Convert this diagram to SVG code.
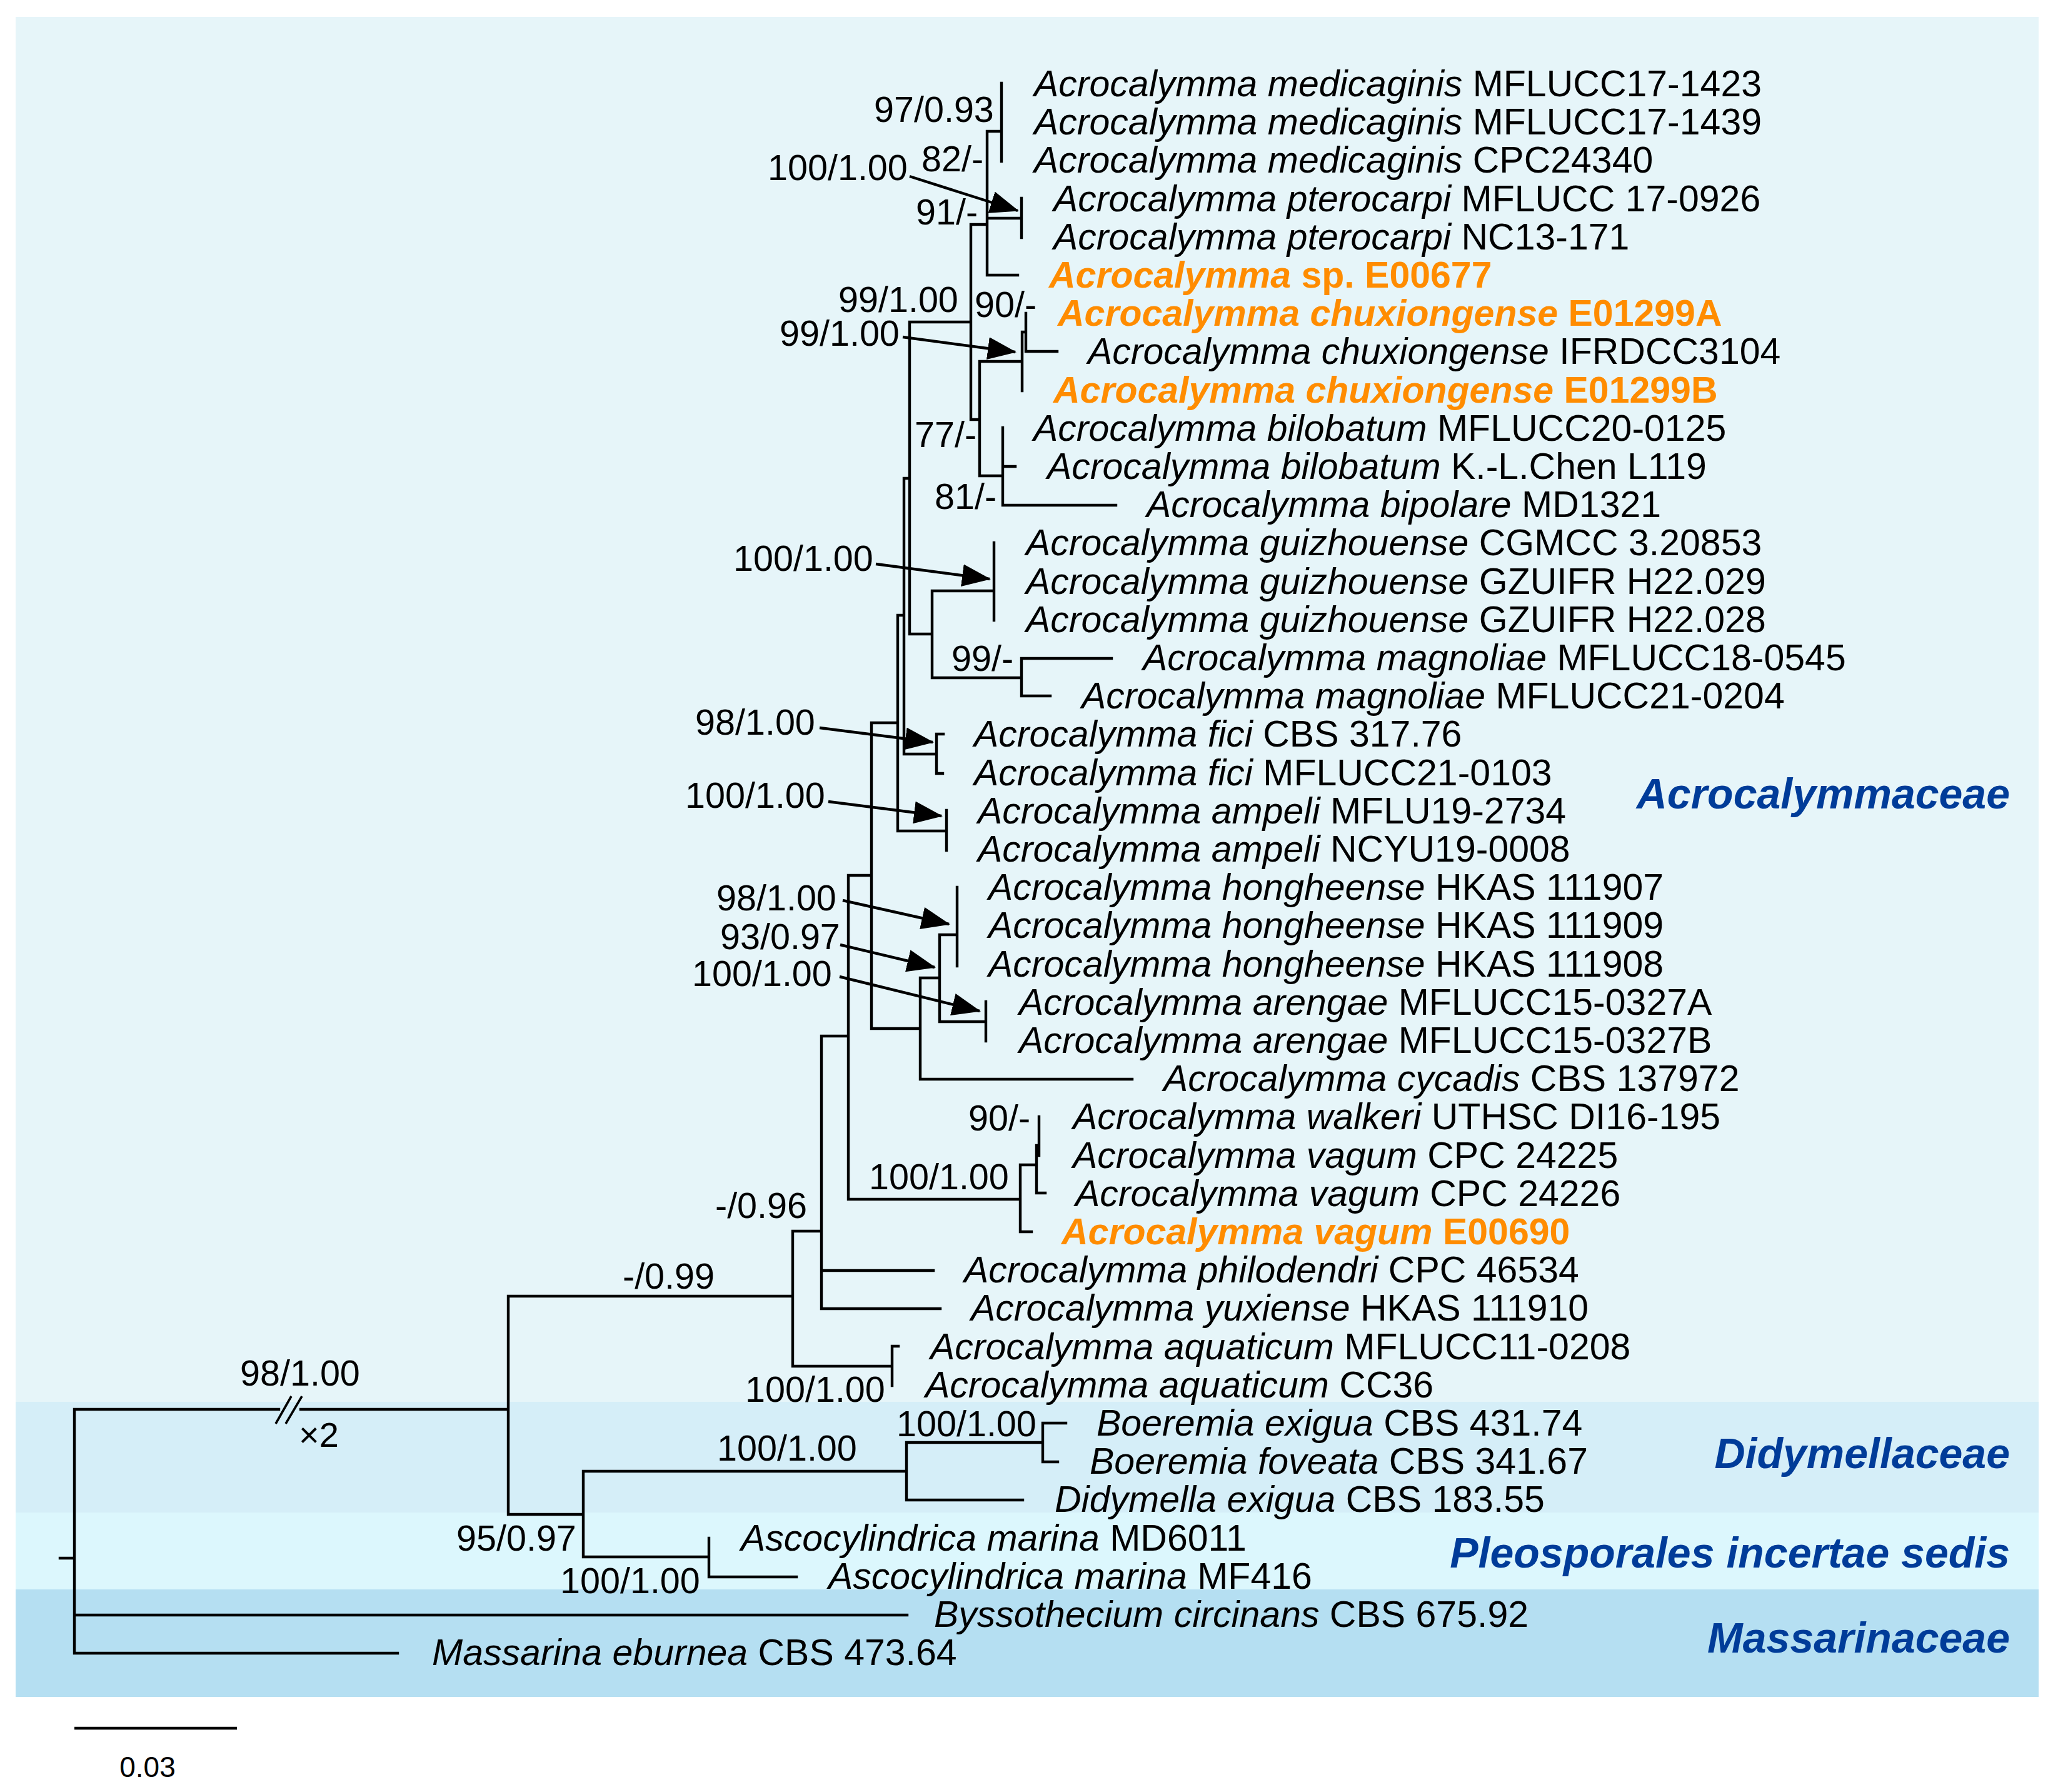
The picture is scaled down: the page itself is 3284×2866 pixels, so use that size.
<svg xmlns="http://www.w3.org/2000/svg" width="3284" height="2866" viewBox="0 0 3284 2866">
<defs>
<style>
text{font-family:'Liberation Sans',Arial,Helvetica,sans-serif;fill:#000}
.t{font-size:59px}
.o{font-size:59px;font-weight:bold;fill:#FF8C00}
.o tspan{fill:#FF8C00}
.s{font-size:57.5px}
.g{font-size:68px;font-weight:bold;font-style:italic;fill:#003C99;text-anchor:end}
.i{font-style:italic}
.br{fill:none;stroke:#000;stroke-width:4.4;stroke-linecap:square}
.ar{fill:none;stroke:#000;stroke-width:4.4;marker-end:url(#ah)}
</style>
<marker id="ah" markerWidth="46" markerHeight="36" refX="44" refY="18" orient="auto" markerUnits="userSpaceOnUse"><path d="M0,0 L46,18 L0,36 Z" fill="#000"/></marker>
</defs>
<rect x="0" y="0" width="3284" height="2866" fill="#FFFFFF"/>
<g id="bands">
<rect x="25" y="27" width="3236" height="2215" fill="#E6F5F9"/>
<rect x="25" y="2242" width="3236" height="177" fill="#D5EEF8"/>
<rect x="25" y="2419" width="3236" height="123" fill="#DCF7FD"/>
<rect x="25" y="2542" width="3236" height="172" fill="#B5DFF2"/>
</g>
<g id="connectors">
<path class="br" d="M96 2492H119 M119 2254V2644 M119 2254H446 M481 2254H813 M119 2583H1451 M119 2644H636
M813 2073V2422 M813 2073H1268 M813 2422H933
M933 2353V2490 M933 2353H1450 M933 2490H1134
M1450 2307V2399 M1450 2307H1668 M1450 2399H1636
M1668 2276V2338 M1668 2276H1705 M1668 2338H1692
M1134 2460V2522 M1134 2522H1274
M1268 1969V2185 M1268 1969H1314 M1268 2185H1427
M1427 2153V2216 M1427 2153H1437
M1314 1657V2093 M1314 1657H1357 M1314 2032H1493 M1314 2093H1504
M1357 1400V1918 M1357 1400H1394 M1357 1918H1632
M1632 1863V1970 M1632 1863H1658 M1632 1970H1650
M1658 1832V1908 M1658 1908H1672 M1658 1832H1662 M1662 1786V1848
M1394 1156V1645 M1394 1156H1436 M1394 1645H1472
M1472 1564V1726 M1472 1564H1503 M1472 1726H1811
M1503 1495V1634 M1503 1495H1531 M1503 1634H1577
M1531 1419V1545 M1577 1602V1665
M1436 984V1329 M1436 984H1446 M1436 1329H1514
M1514 1296V1360
M1446 765V1206 M1446 765H1455 M1446 1206H1498
M1498 1174V1237 M1498 1174H1509 M1498 1237H1508
M1455 515V1014 M1455 515H1553 M1455 1014H1491
M1491 945V1084 M1491 945H1590 M1491 1084H1634
M1590 868V992
M1634 1053V1113 M1634 1053H1778 M1634 1113H1680
M1553 359V671 M1553 359H1579 M1553 671H1567
M1579 210V440 M1579 210H1602 M1579 349H1634 M1579 440H1628
M1602 133V258 M1634 317V380
M1567 578V761 M1567 578H1635 M1567 761H1604
M1635 531V625 M1635 531H1641 M1641 501V562 M1641 562H1691
M1604 684V808 M1604 746H1624 M1604 808H1785"/>
<path d="M441 2277L466 2233 M457 2277L483 2233" stroke="#000" stroke-width="3.6" fill="none"/>
<path class="ar" d="M1455 282L1628 337"/>
<path class="ar" d="M1444 539L1624 563"/>
<path class="ar" d="M1401 902L1583 926"/>
<path class="ar" d="M1311 1164L1492 1187"/>
<path class="ar" d="M1325 1282L1506 1305"/>
<path class="ar" d="M1348 1440L1518 1478"/>
<path class="ar" d="M1344 1511L1495 1547"/>
<path class="ar" d="M1343 1562L1567 1617"/>
<path d="M119 2764H379" stroke="#000" stroke-width="4.4" fill="none"/>
</g>
<g id="taxa">
<g id="t1"><text class="t" x="1654" y="154"><tspan class="i">Acrocalymma medicaginis</tspan> MFLUCC17-1423</text></g>
<g id="t2"><text class="t" x="1654" y="215"><tspan class="i">Acrocalymma medicaginis</tspan> MFLUCC17-1439</text></g>
<g id="t3"><text class="t" x="1654" y="276"><tspan class="i">Acrocalymma medicaginis</tspan> CPC24340</text></g>
<g id="t4"><text class="t" x="1685" y="338"><tspan class="i">Acrocalymma pterocarpi</tspan> MFLUCC 17-0926</text></g>
<g id="t5"><text class="t" x="1685" y="399"><tspan class="i">Acrocalymma pterocarpi</tspan> NC13-171</text></g>
<g id="t6"><text class="o" x="1678" y="460"><tspan class="i">Acrocalymma</tspan> sp. E00677</text></g>
<g id="t7"><text class="o" x="1692" y="521"><tspan class="i">Acrocalymma chuxiongense</tspan> E01299A</text></g>
<g id="t8"><text class="t" x="1740" y="582"><tspan class="i">Acrocalymma chuxiongense</tspan> IFRDCC3104</text></g>
<g id="t9"><text class="o" x="1685" y="644"><tspan class="i">Acrocalymma chuxiongense</tspan> E01299B</text></g>
<g id="t10"><text class="t" x="1653" y="705"><tspan class="i">Acrocalymma bilobatum</tspan> MFLUCC20-0125</text></g>
<g id="t11"><text class="t" x="1675" y="766"><tspan class="i">Acrocalymma bilobatum</tspan> K.-L.Chen L119</text></g>
<g id="t12"><text class="t" x="1834" y="827"><tspan class="i">Acrocalymma bipolare</tspan> MD1321</text></g>
<g id="t13"><text class="t" x="1641" y="888"><tspan class="i">Acrocalymma guizhouense</tspan> CGMCC 3.20853</text></g>
<g id="t14"><text class="t" x="1641" y="950"><tspan class="i">Acrocalymma guizhouense</tspan> GZUIFR H22.029</text></g>
<g id="t15"><text class="t" x="1641" y="1011"><tspan class="i">Acrocalymma guizhouense</tspan> GZUIFR H22.028</text></g>
<g id="t16"><text class="t" x="1828" y="1072"><tspan class="i">Acrocalymma magnoliae</tspan> MFLUCC18-0545</text></g>
<g id="t17"><text class="t" x="1730" y="1133"><tspan class="i">Acrocalymma magnoliae</tspan> MFLUCC21-0204</text></g>
<g id="t18"><text class="t" x="1558" y="1194"><tspan class="i">Acrocalymma fici</tspan> CBS 317.76</text></g>
<g id="t19"><text class="t" x="1558" y="1256"><tspan class="i">Acrocalymma fici</tspan> MFLUCC21-0103</text></g>
<g id="t20"><text class="t" x="1564" y="1317"><tspan class="i">Acrocalymma ampeli</tspan> MFLU19-2734</text></g>
<g id="t21"><text class="t" x="1564" y="1378"><tspan class="i">Acrocalymma ampeli</tspan> NCYU19-0008</text></g>
<g id="t22"><text class="t" x="1581" y="1439"><tspan class="i">Acrocalymma hongheense</tspan> HKAS 111907</text></g>
<g id="t23"><text class="t" x="1581" y="1500"><tspan class="i">Acrocalymma hongheense</tspan> HKAS 111909</text></g>
<g id="t24"><text class="t" x="1581" y="1562"><tspan class="i">Acrocalymma hongheense</tspan> HKAS 111908</text></g>
<g id="t25"><text class="t" x="1630" y="1623"><tspan class="i">Acrocalymma arengae</tspan> MFLUCC15-0327A</text></g>
<g id="t26"><text class="t" x="1630" y="1684"><tspan class="i">Acrocalymma arengae</tspan> MFLUCC15-0327B</text></g>
<g id="t27"><text class="t" x="1861" y="1745"><tspan class="i">Acrocalymma cycadis</tspan> CBS 137972</text></g>
<g id="t28"><text class="t" x="1716" y="1806"><tspan class="i">Acrocalymma walkeri</tspan> UTHSC DI16-195</text></g>
<g id="t29"><text class="t" x="1716" y="1868"><tspan class="i">Acrocalymma vagum</tspan> CPC 24225</text></g>
<g id="t30"><text class="t" x="1720" y="1929"><tspan class="i">Acrocalymma vagum</tspan> CPC 24226</text></g>
<g id="t31"><text class="o" x="1698" y="1990"><tspan class="i">Acrocalymma vagum</tspan> E00690</text></g>
<g id="t32"><text class="t" x="1542" y="2051"><tspan class="i">Acrocalymma philodendri</tspan> CPC 46534</text></g>
<g id="t33"><text class="t" x="1553" y="2112"><tspan class="i">Acrocalymma yuxiense</tspan> HKAS 111910</text></g>
<g id="t34"><text class="t" x="1488" y="2174"><tspan class="i">Acrocalymma aquaticum</tspan> MFLUCC11-0208</text></g>
<g id="t35"><text class="t" x="1480" y="2235"><tspan class="i">Acrocalymma aquaticum</tspan> CC36</text></g>
<g id="t36"><text class="t" x="1754" y="2296"><tspan class="i">Boeremia exigua</tspan> CBS 431.74</text></g>
<g id="t37"><text class="t" x="1743" y="2357"><tspan class="i">Boeremia foveata</tspan> CBS 341.67</text></g>
<g id="t38"><text class="t" x="1687" y="2418"><tspan class="i">Didymella exigua</tspan> CBS 183.55</text></g>
<g id="t39"><text class="t" x="1185" y="2480"><tspan class="i">Ascocylindrica marina</tspan> MD6011</text></g>
<g id="t40"><text class="t" x="1325" y="2541"><tspan class="i">Ascocylindrica marina</tspan> MF416</text></g>
<g id="t41"><text class="t" x="1494" y="2602"><tspan class="i">Byssothecium circinans</tspan> CBS 675.92</text></g>
<g id="t42"><text class="t" x="691" y="2663"><tspan class="i">Massarina eburnea</tspan> CBS 473.64</text></g>
</g>
<g id="support">
<text class="s" x="1398" y="195">97/0.93</text>
<text class="s" x="1474" y="274">82/-</text>
<text class="s" x="1228" y="288">100/1.00</text>
<text class="s" x="1465" y="359">91/-</text>
<text class="s" x="1341" y="499">99/1.00</text>
<text class="s" x="1559" y="507">90/-</text>
<text class="s" x="1247" y="553">99/1.00</text>
<text class="s" x="1463" y="715">77/-</text>
<text class="s" x="1495" y="814">81/-</text>
<text class="s" x="1173" y="913">100/1.00</text>
<text class="s" x="1522" y="1073">99/-</text>
<text class="s" x="1112" y="1175">98/1.00</text>
<text class="s" x="1096" y="1292">100/1.00</text>
<text class="s" x="1146" y="1456">98/1.00</text>
<text class="s" x="1152" y="1518">93/0.97</text>
<text class="s" x="1107" y="1577">100/1.00</text>
<text class="s" x="1549" y="1808">90/-</text>
<text class="s" x="1390" y="1902">100/1.00</text>
<text class="s" x="1144" y="1948">-/0.96</text>
<text class="s" x="996" y="2061">-/0.99</text>
<text class="s" x="1192" y="2242">100/1.00</text>
<text class="s" x="384" y="2216">98/1.00</text>
<text x="478" y="2314" style="font-size:56px">×2</text>
<text class="s" x="1434" y="2297">100/1.00</text>
<text class="s" x="1147" y="2336">100/1.00</text>
<text class="s" x="730" y="2480">95/0.97</text>
<text class="s" x="896" y="2548">100/1.00</text>
</g>
<g id="groups">
<text class="g" x="3215" y="1293">Acrocalymmaceae</text>
<text class="g" x="3215" y="2348">Didymellaceae</text>
<text class="g" x="3215" y="2507">Pleosporales incertae sedis</text>
<text class="g" x="3215" y="2643">Massarinaceae</text>
</g>
<g id="scale">
<text x="236" y="2842" style="font-size:46px;text-anchor:middle">0.03</text>
</g>
</svg>
